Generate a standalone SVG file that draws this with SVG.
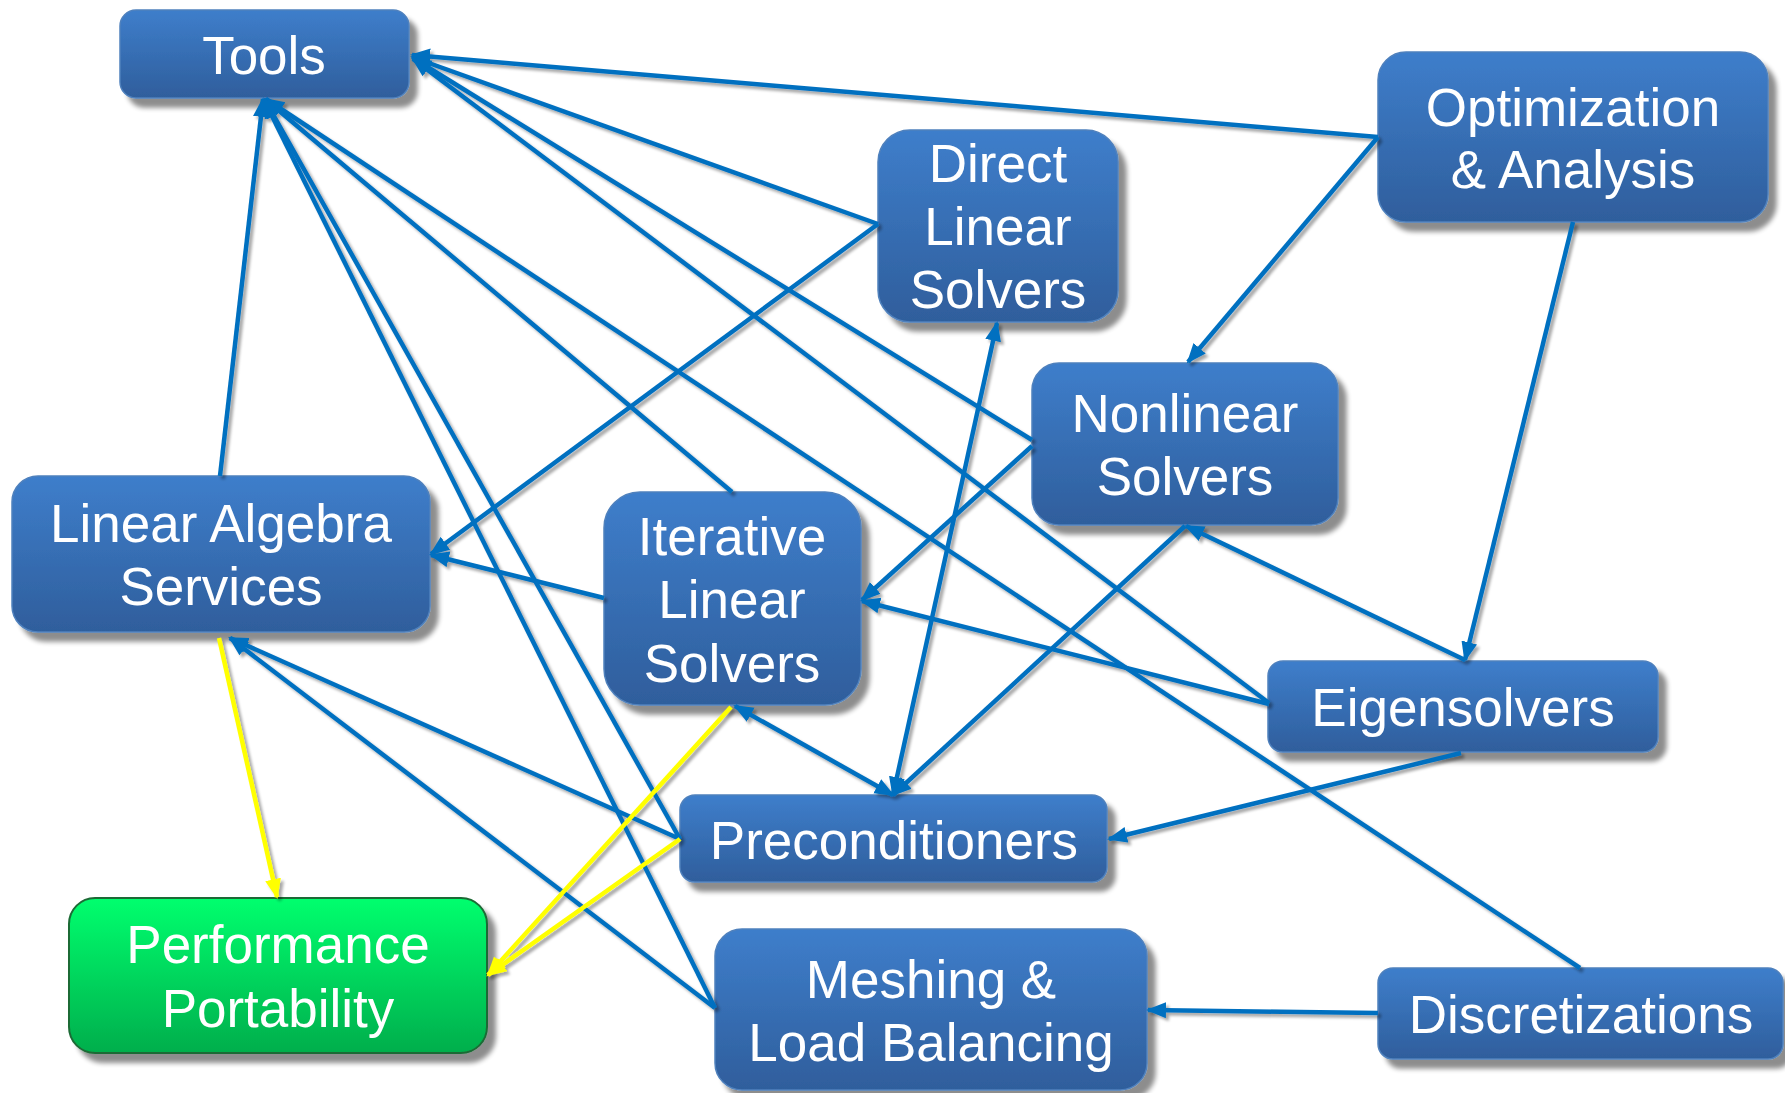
<svg xmlns="http://www.w3.org/2000/svg" width="1785" height="1093" viewBox="0 0 1785 1093">
<defs>
<linearGradient id="gBlue" x1="0" y1="0" x2="0" y2="1">
<stop offset="0" stop-color="#3E7ECB"/>
<stop offset="1" stop-color="#2F5E9C"/>
</linearGradient>
<linearGradient id="gGreen" x1="0" y1="0" x2="0" y2="1">
<stop offset="0" stop-color="#00FF6E"/>
<stop offset="1" stop-color="#00AE4C"/>
</linearGradient>
<filter id="shadow" x="-10%" y="-10%" width="130%" height="140%">
<feGaussianBlur in="SourceAlpha" stdDeviation="2.5"/>
<feOffset dx="8" dy="9" result="b"/>
<feComponentTransfer><feFuncA type="linear" slope="0.45"/></feComponentTransfer>
<feMerge><feMergeNode/><feMergeNode in="SourceGraphic"/></feMerge>
</filter>
<filter id="lshadow" x="-5%" y="-5%" width="110%" height="110%">
<feGaussianBlur in="SourceAlpha" stdDeviation="1.5"/>
<feOffset dx="3" dy="3" result="b"/>
<feComponentTransfer><feFuncA type="linear" slope="0.35"/></feComponentTransfer>
<feMerge><feMergeNode/><feMergeNode in="SourceGraphic"/></feMerge>
</filter>
<marker id="aB" markerUnits="userSpaceOnUse" markerWidth="22" markerHeight="18" refX="18" refY="8" orient="auto-start-reverse">
<path d="M0,0 L20,8 L0,16 z" fill="#0070C0"/>
</marker>
<marker id="aY" markerUnits="userSpaceOnUse" markerWidth="22" markerHeight="18" refX="18" refY="8" orient="auto-start-reverse">
<path d="M0,0 L20,8 L0,16 z" fill="#FFFF00"/>
</marker>
</defs>
<style>
.box{fill:url(#gBlue);stroke:#4F81BD;stroke-width:1.5}
.gbox{fill:url(#gGreen);stroke:#1C6B36;stroke-width:2}
.t{font-family:"Liberation Sans",Arial,sans-serif;font-size:53px;fill:#FFFFFF;text-anchor:middle}
.c{fill:none;stroke:#0070C0;stroke-width:4.5;marker-end:url(#aB)}
.y{fill:none;stroke:#FFFF00;stroke-width:4.5;marker-end:url(#aY)}
</style>
<rect width="1785" height="1093" fill="#FFFFFF"/>
<g id="nodes" filter="url(#shadow)">
<g id="tools"><rect class="box" x="120" y="10" width="289" height="88" rx="16"/><text class="t" x="264" y="74">Tools</text></g>
<g id="optimization"><rect class="box" x="1378" y="52" width="390" height="170" rx="28"/><text class="t" x="1573" y="126">Optimization</text><text class="t" x="1573" y="188">&amp; Analysis</text></g>
<g id="direct"><rect class="box" x="878" y="130" width="240" height="192" rx="32"/><text class="t" x="998" y="182">Direct</text><text class="t" x="998" y="245">Linear</text><text class="t" x="998" y="308">Solvers</text></g>
<g id="nonlinear"><rect class="box" x="1032" y="363" width="306" height="162" rx="27"/><text class="t" x="1185" y="432">Nonlinear</text><text class="t" x="1185" y="495">Solvers</text></g>
<g id="linalg"><rect class="box" x="12" y="476" width="418" height="156" rx="26"/><text class="t" x="221" y="542">Linear Algebra</text><text class="t" x="221" y="605">Services</text></g>
<g id="iterative"><rect class="box" x="604" y="492" width="257" height="213" rx="36"/><text class="t" x="732" y="555">Iterative</text><text class="t" x="732" y="618">Linear</text><text class="t" x="732" y="682">Solvers</text></g>
<g id="eigen"><rect class="box" x="1268" y="661" width="390" height="91" rx="15"/><text class="t" x="1463" y="726">Eigensolvers</text></g>
<g id="precond"><rect class="box" x="680" y="795" width="427" height="87" rx="15"/><text class="t" x="894" y="859">Preconditioners</text></g>
<g id="perf"><rect class="gbox" x="69" y="898" width="418" height="155" rx="26"/><text class="t" x="278" y="963">Performance</text><text class="t" x="278" y="1027">Portability</text></g>
<g id="meshing"><rect class="box" x="715" y="929" width="432" height="161" rx="27"/><text class="t" x="931" y="998">Meshing &amp;</text><text class="t" x="931" y="1061">Load Balancing</text></g>
<g id="discret"><rect class="box" x="1378" y="968" width="405" height="91" rx="15"/><text class="t" x="1581" y="1033">Discretizations</text></g>
</g>
<g id="connectors" filter="url(#lshadow)">
<path class="c" d="M1378,137 L412,55"/>
<path class="c" d="M878,224 L412,57"/>
<path class="c" d="M1032,440 L413,58"/>
<path class="c" d="M1269,703 L413,59"/>
<path class="c" d="M220,476 L263,99"/>
<path class="c" d="M732,492 L265,99"/>
<path class="c" d="M1580,968 L266,99"/>
<path class="c" d="M680,839 L265,100"/>
<path class="c" d="M715,1008 L264,100"/>
<path class="c" d="M878,224 L431,554"/>
<path class="c" d="M604,598 L431,555"/>
<path class="c" d="M1378,137 L1188,362"/>
<path class="c" d="M1573,222 L1465,660"/>
<path class="c" d="M1032,446 L862,600"/>
<path class="c" d="M1269,704 L862,601"/>
<path class="c" d="M1465,660 L1186,526"/>
<path class="c" d="M1185,526 L893,795"/>
<path class="c" d="M893,795 L997,323" style="marker-start:url(#aB)"/>
<path class="c" d="M893,795 L735,706" style="marker-start:url(#aB)"/>
<path class="c" d="M1461,753 L1109,839"/>
<path class="c" d="M1378,1013 L1148,1010"/>
<path class="c" d="M680,839 L230,638"/>
<path class="c" d="M715,1008 L230,638"/>
<path class="y" d="M219,638 L277,897"/>
<path class="y" d="M731,707 L488,975"/>
<path class="y" d="M680,839 L488,975"/>
</g>
</svg>
